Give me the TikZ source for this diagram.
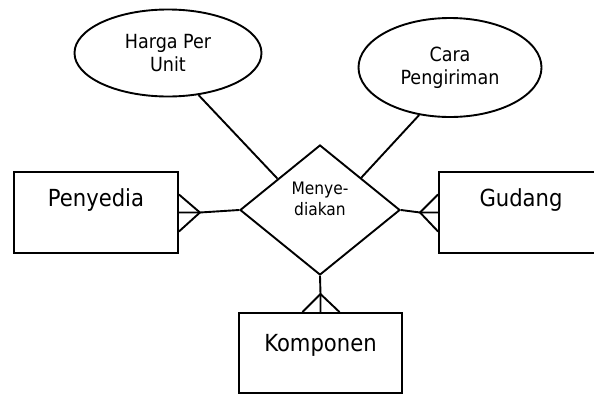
\documentclass[tikz,border=0pt]{standalone}
\usepackage{fontspec}
\setmainfont{DejaVu Sans Condensed}
\usetikzlibrary{shapes.geometric,calc}

\begin{document}
\begin{tikzpicture}[x=1pt,y=-1pt,line width=1.9pt,
  entity/.style={draw,rectangle,minimum width=164pt,minimum height=81pt,inner sep=0pt,text height=18pt,text depth=30pt,font=\fontsize{23.5}{27}\selectfont},
  attrib/.style={draw,ellipse,inner sep=0pt,align=center,font=\fontsize{19.5}{23}\selectfont},
  relation/.style={draw,diamond,inner sep=0pt,minimum width=160pt,minimum height=130pt}]
\useasboundingbox (0,0) rectangle (594,394);
\clip (0,0) rectangle (594,394);
\node[entity] (penyedia) at (96,212.5) {Penyedia};
\node[entity] (gudang) at (521,212.5) {Gudang};
\node[entity,minimum width=163pt,minimum height=80pt,text depth=21pt] (komponen) at (320.5,353) {Komponen};
\node[relation,label={[align=center,font=\fontsize{17.2}{21}\selectfont,yshift=11pt]center:Menye-\\diakan}] (menyediakan) at (320,210) {};
\node[attrib,minimum width=187pt,minimum height=87pt] (harga) at (168,53) {Harga Per\\Unit};
\node[attrib,minimum width=183pt,minimum height=99pt] (cara) at (450,67.5) {Cara\\Pengiriman};
\draw (harga.-54) -- ($(menyediakan.west)!0.475!(menyediakan.north)$);
\draw (cara.-123) -- ($(menyediakan.east)!0.49!(menyediakan.north)$);
\coordinate (pTip) at ($(penyedia.east)+(21,0)$);
\draw (menyediakan.west) -- (pTip) -- (penyedia.east);
\draw ($(penyedia.east)+(0,-18)$) -- (pTip) -- ($(penyedia.east)+(0,19)$);
\coordinate (gTip) at ($(gudang.west)+(-18,0)$);
\draw (menyediakan.east) -- (gTip) -- (gudang.west);
\draw ($(gudang.west)+(0,-18)$) -- (gTip) -- ($(gudang.west)+(0,19)$);
\coordinate (kTip) at ($(komponen.north)+(0,-18)$);
\draw (menyediakan.south) -- (kTip) -- (komponen.north);
\draw ($(komponen.north)+(-18,0)$) -- (kTip) -- ($(komponen.north)+(19,0)$);
\end{tikzpicture}
\end{document}
